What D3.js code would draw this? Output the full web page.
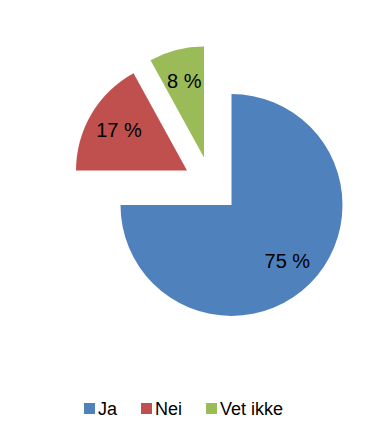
<!DOCTYPE html>
<html>
<head>
<meta charset="utf-8">
<script src="https://cdn.jsdelivr.net/npm/d3@7"></script>
<style>
  body { margin: 0; background: #fff; }
  svg { display: block; }
</style>
</head>
<body>
<div id="chart"></div>
<script>
var categories = ['Ja', 'Nei', 'Vet ikke'],
    values = [75, 17, 8],
    labels = ['75 %', '17 %', '8 %'],
    colors = ['#4F81BD', '#C0504D', '#9BBB59'];

// explosion offset of each slice (px)
var explode = [[0, 0], [-44.5, -34.5], [-27.5, -47.5]];

var width = 392,
    height = 448,
    cx = 231.5,
    cy = 205,
    radius = 111;

var svg = d3.select('#chart')
    .append('svg')
    .attr('width', width)
    .attr('height', height);

var data = categories.map(function(c, i) {
    return { name: c, value: values[i], label: labels[i], color: colors[i], off: explode[i] };
});

var pie = d3.pie()
    .sort(null)
    .value(function(d) { return d.value; });

var arc = d3.arc().innerRadius(0).outerRadius(radius);
var labelArc = d3.arc().innerRadius(79).outerRadius(79);

var slices = svg.selectAll('g.slice')
    .data(pie(data))
    .enter()
    .append('g')
    .attr('class', 'slice')
    .attr('transform', function(d) {
        return 'translate(' + (cx + d.data.off[0]) + ',' + (cy + d.data.off[1]) + ')';
    });

slices.append('path')
    .attr('d', arc)
    .attr('fill', function(d) { return d.data.color; });

slices.append('text')
    .attr('transform', function(d) { return 'translate(' + labelArc.centroid(d) + ')'; })
    .attr('text-anchor', 'middle')
    .attr('dy', '0.36em')
    .attr('font-family', 'Liberation Sans, Arial, sans-serif')
    .attr('font-size', 20)
    .attr('fill', '#000')
    .text(function(d) { return d.data.label; });

// legend
var legend = svg.append('g').attr('transform', 'translate(84,403)');
var x = 0;
data.forEach(function(d) {
    var item = legend.append('g').attr('transform', 'translate(' + x + ',0)');
    item.append('rect')
        .attr('width', 11)
        .attr('height', 11)
        .attr('fill', d.color);
    var t = item.append('text')
        .attr('x', 14)
        .attr('y', 11.5)
        .attr('font-family', 'Liberation Sans, Arial, sans-serif')
        .attr('font-size', 18)
        .attr('fill', '#000')
        .text(d.name);
    x += 14 + t.node().getComputedTextLength() + 24;
});
</script>
</body>
</html>
